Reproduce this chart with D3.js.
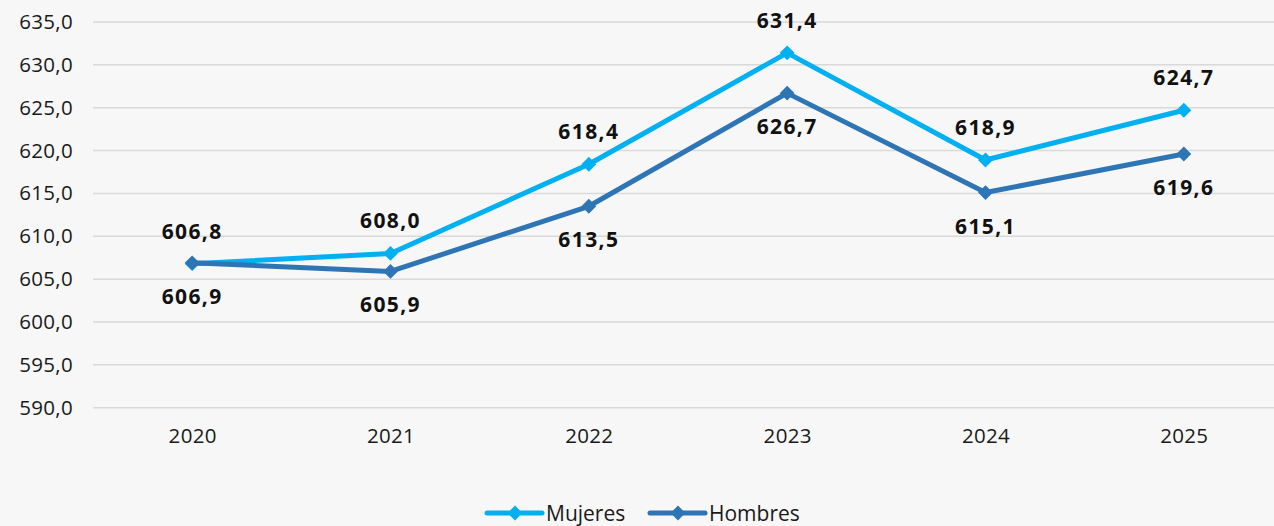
<!DOCTYPE html>
<html><head><meta charset="utf-8">
<script src="https://cdn.jsdelivr.net/npm/d3@7/dist/d3.min.js"></script>
<style>
html,body{margin:0;padding:0;background:#f7f7f7;}
svg{display:block;}
text{font-family:"Open Sans","Noto Sans",sans-serif;}
</style></head>
<body>
<svg id="c" width="1274" height="526"></svg>
<script>
const years = ["2020","2021","2022","2023","2024","2025"];
const mujeres = [606.8, 608.0, 618.4, 631.4, 618.9, 624.7];
const hombres = [606.9, 605.9, 613.5, 626.7, 615.1, 619.6];
const yTicks = [590,595,600,605,610,615,620,625,630,635];
const seriesNames = ["Mujeres","Hombres"];
const colors = ["#00b0f0","#2e75b6"];
const FONT = '"Open Sans","Noto Sans",sans-serif';

const svg = d3.select("#c");
const fmt = v => d3.format(".1f")(v).replace(".", ",");
const x = d3.scalePoint().domain(years).range([93, 1283]).padding(0.5);
const y = d3.scaleLinear().domain([590,635]).range([407.7, 22]);

// gridlines
svg.append("g").selectAll("line").data(yTicks).join("line")
  .attr("x1", 93).attr("x2", 1274)
  .attr("y1", d => y(d)).attr("y2", d => y(d))
  .attr("stroke", "#d9d9d9").attr("stroke-width", 1.5);

// y axis labels
const yAxis = d3.axisLeft(y).tickValues(yTicks).tickFormat(fmt).tickSize(0).tickPadding(0);
const ya = svg.append("g").attr("transform","translate(73,0)").call(yAxis)
  .attr("font-family", FONT);
ya.select(".domain").remove();
ya.selectAll("text").attr("font-size", 20.5).attr("letter-spacing", 0.3).attr("fill","#1a1a1a");

// x axis labels
const xAxis = d3.axisBottom(x).tickSize(0).tickPadding(0);
const xa = svg.append("g").attr("transform","translate(0,428)").call(xAxis)
  .attr("font-family", FONT);
xa.select(".domain").remove();
xa.selectAll("text").attr("font-size", 20.5).attr("letter-spacing", 0.3).attr("fill","#1a1a1a");

const data = [mujeres, hombres];
const line = d3.line().x((d,i)=>x(years[i])).y(d=>y(d));
const diamond = d3.symbol().type(d3.symbolSquare).size(110);

data.forEach((vals, si) => {
  const g = svg.append("g");
  g.append("path").datum(vals).attr("d", line).attr("fill","none")
    .attr("stroke", colors[si]).attr("stroke-width", 5).attr("stroke-linejoin","round");
  g.selectAll("path.m").data(vals).join("path").attr("class","m")
    .attr("d", diamond)
    .attr("transform", (d,i)=>`translate(${x(years[i])},${y(d)}) rotate(45)`)
    .attr("fill", colors[si]);
});

// data labels
data.forEach((vals, si) => {
  svg.append("g").selectAll("text").data(vals).join("text")
    .attr("x", (d,i)=>x(years[i]))
    .attr("y", d => si===0 ? y(d)-25 : y(d)+41)
    .attr("text-anchor","middle")
    .attr("font-size", 21).attr("letter-spacing", 1.4).attr("font-weight","bold").attr("fill","#111")
    .text(fmt);
});

// legend
const leg = svg.append("g");
const legX = [487, 650];
seriesNames.forEach((n, i) => {
  const lx = legX[i], ly = 513;
  leg.append("line").attr("x1", lx).attr("x2", lx+55).attr("y1", ly).attr("y2", ly)
    .attr("stroke", colors[i]).attr("stroke-width", 5).attr("stroke-linecap","round");
  leg.append("path").attr("d", diamond).attr("transform", `translate(${lx+28},${ly}) rotate(45)`).attr("fill", colors[i]);
  leg.append("text").attr("x", lx+59).attr("y", ly+8).attr("font-size", 21).attr("fill","#1a1a1a").text(n);
});
</script>
</body></html>
